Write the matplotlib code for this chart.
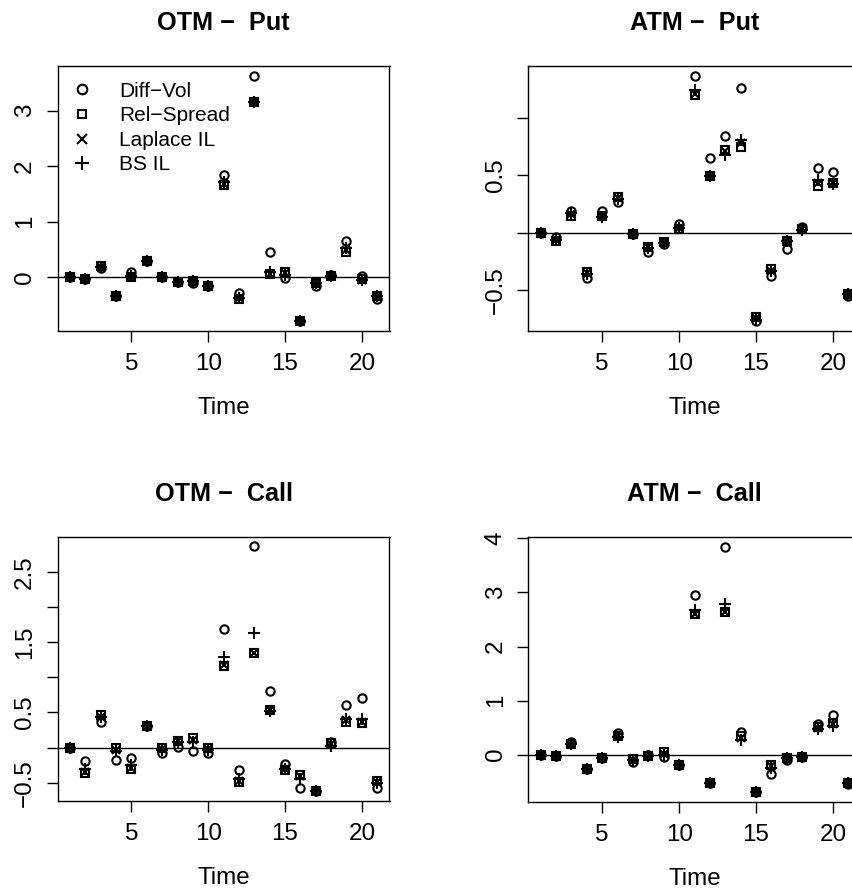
import numpy as np
import matplotlib
matplotlib.use("Agg")
import matplotlib.pyplot as plt

plt.rcParams["font.family"] = ["Liberation Sans", "DejaVu Sans"]

time = list(range(1, 22))
series_names = ["Diff−Vol", "Rel−Spread", "Laplace IL", "BS IL"]

# OTM - Put
otm_put_diffvol = [0, -0.04, 0.16, -0.33, 0.10, 0.29, 0.0, -0.08, -0.11, -0.15, 1.84,
                   -0.29, 3.63, 0.46, -0.02, -0.79, -0.16, 0.04, 0.66, 0.02, -0.40]
otm_put_relspread = [0, -0.04, 0.20, -0.33, 0.00, 0.29, 0.0, -0.08, -0.07, -0.15, 1.66,
                     -0.40, 3.16, 0.05, 0.10, -0.79, -0.10, 0.02, 0.46, -0.04, -0.34]
otm_put_laplace = [0, -0.04, 0.19, -0.33, 0.01, 0.29, 0.0, -0.08, -0.07, -0.15, 1.68,
                   -0.38, 3.16, 0.05, 0.07, -0.79, -0.10, 0.02, 0.49, -0.05, -0.34]
otm_put_bs = [0, -0.04, 0.18, -0.33, 0.02, 0.29, 0.0, -0.08, -0.07, -0.15, 1.72,
              -0.37, 3.15, 0.10, 0.04, -0.79, -0.10, 0.02, 0.52, -0.05, -0.34]

# ATM - Put
atm_put_diffvol = [0, -0.04, 0.19, -0.39, 0.19, 0.27, -0.01, -0.17, -0.10, 0.08, 1.366,
                   0.65, 0.84, 1.26, -0.77, -0.38, -0.14, 0.05, 0.56, 0.53, -0.555]
atm_put_relspread = [0, -0.07, 0.15, -0.34, 0.15, 0.31, -0.01, -0.12, -0.08, 0.03, 1.20,
                     0.49, 0.72, 0.75, -0.73, -0.32, -0.07, 0.03, 0.41, 0.43, -0.53]
atm_put_laplace = [0, -0.06, 0.16, -0.35, 0.15, 0.30, -0.01, -0.12, -0.08, 0.04, 1.21,
                   0.49, 0.71, 0.78, -0.74, -0.33, -0.07, 0.03, 0.43, 0.43, -0.53]
atm_put_bs = [0, -0.06, 0.17, -0.36, 0.14, 0.29, -0.01, -0.13, -0.09, 0.04, 1.24,
              0.49, 0.68, 0.81, -0.76, -0.33, -0.07, 0.02, 0.46, 0.42, -0.53]

# OTM - Call
otm_call_diffvol = [0, -0.19, 0.36, -0.17, -0.15, 0.31, -0.07, 0.01, -0.05, -0.07, 1.68,
                    -0.32, 2.86, 0.80, -0.24, -0.57, -0.62, 0.08, 0.61, 0.70, -0.58]
otm_call_relspread = [0, -0.36, 0.47, -0.01, -0.30, 0.31, -0.01, 0.10, 0.13, -0.01, 1.16,
                      -0.49, 1.35, 0.54, -0.32, -0.39, -0.62, 0.06, 0.37, 0.35, -0.47]
otm_call_laplace = [0, -0.35, 0.44, -0.04, -0.29, 0.31, -0.02, 0.09, 0.11, -0.02, 1.17,
                    -0.47, 1.35, 0.54, -0.31, -0.41, -0.62, 0.05, 0.39, 0.37, -0.49]
otm_call_bs = [0, -0.31, 0.44, -0.05, -0.25, 0.31, -0.03, 0.08, 0.08, -0.04, 1.29,
               -0.44, 1.63, 0.52, -0.30, -0.44, -0.62, 0.02, 0.41, 0.40, -0.51]

# ATM - Call
atm_call_diffvol = [0, -0.02, 0.23, -0.27, -0.07, 0.40, -0.13, 0.00, -0.04, -0.20, 2.95,
                    -0.53, 3.85, 0.42, -0.69, -0.36, -0.10, -0.04, 0.56, 0.73, -0.54]
atm_call_relspread = [0, -0.03, 0.20, -0.27, -0.07, 0.35, -0.09, -0.03, 0.04, -0.20, 2.60,
                      -0.53, 2.64, 0.35, -0.69, -0.20, -0.07, -0.04, 0.51, 0.59, -0.52]
atm_call_laplace = [0, -0.03, 0.20, -0.27, -0.07, 0.34, -0.10, -0.03, 0.02, -0.20, 2.61,
                    -0.53, 2.64, 0.31, -0.69, -0.22, -0.07, -0.04, 0.49, 0.56, -0.52]
atm_call_bs = [0, -0.03, 0.20, -0.27, -0.07, 0.33, -0.10, -0.03, 0.00, -0.20, 2.68,
               -0.53, 2.79, 0.27, -0.69, -0.25, -0.07, -0.04, 0.47, 0.53, -0.52]

# panel: title, series, y ticks, y tick labels
panels = [
    ("OTM −  Put", [otm_put_diffvol, otm_put_relspread, otm_put_laplace, otm_put_bs],
     [0, 1, 2, 3], ["0", "1", "2", "3"]),
    ("ATM −  Put", [atm_put_diffvol, atm_put_relspread, atm_put_laplace, atm_put_bs],
     [-0.5, 0, 0.5, 1.0], ["−0.5", "", "0.5", ""]),
    ("OTM −  Call", [otm_call_diffvol, otm_call_relspread, otm_call_laplace, otm_call_bs],
     [-0.5, 0, 0.5, 1.0, 1.5, 2.0, 2.5], ["−0.5", "", "0.5", "", "1.5", "", "2.5"]),
    ("ATM −  Call", [atm_call_diffvol, atm_call_relspread, atm_call_laplace, atm_call_bs],
     [0, 1, 2, 3, 4], ["0", "1", "2", "3", "4"]),
]

W, H = 853, 893
fig = plt.figure(figsize=(W / 100, H / 100), dpi=100)

# axes boxes in pixels: left, top, right, bottom
boxes = [(57.7, 65.7, 389.5, 331), (528.3, 66, 860.7, 331),
         (57.7, 536.7, 389.5, 801), (528.3, 536.7, 860.7, 801.7)]

markers = [dict(marker="o", ms=6.0, mfc="none"),
           dict(marker="s", ms=5.4, mfc="none"),
           dict(marker="x", ms=5.8),
           dict(marker="+", ms=8.8)]

for i, (title, series, yt, ytl) in enumerate(panels):
    l, t, r, b = boxes[i]
    ax = fig.add_axes([l / W, 1 - b / H, (r - l) / W, (b - t) / H])
    ax.axhline(0, color="black", lw=1.0, zorder=1)
    for vals, name, mk in zip(series, series_names, markers):
        ax.plot(time, vals, ls="none", color="black", mec="black", mew=1.5,
                label=name, zorder=2, **mk)
    lo = min(min(s) for s in series)
    hi = max(max(s) for s in series)
    d = (hi - lo) * 0.04
    ax.set_ylim(lo - d, hi + d)
    ax.set_xlim(0.2, 21.8)
    ax.set_xticks([5, 10, 15, 20])
    ax.set_yticks(yt)
    ax.set_yticklabels(ytl, rotation=90, va="center")
    ax.tick_params(direction="out", length=8, width=1.0, labelsize=17.4, pad=8,
                   top=False, right=False)
    ax.tick_params(axis="y", pad=7.5)
    for sp in ax.spines.values():
        sp.set_linewidth(1.0)
    ax.set_xlabel("Time", fontsize=17.4, labelpad=16)
    ax.set_title(title, fontsize=18.2, fontweight="bold", pad=26)
    if i == 0:
        ax.legend(loc="upper left", bbox_to_anchor=(0.041, 0.94), frameon=False,
                  fontsize=15, numpoints=1, handlelength=1.0, handletextpad=1.3,
                  labelspacing=0.27, borderaxespad=0, borderpad=0, markerscale=1.15)

fig.savefig("out.png", dpi=100)
